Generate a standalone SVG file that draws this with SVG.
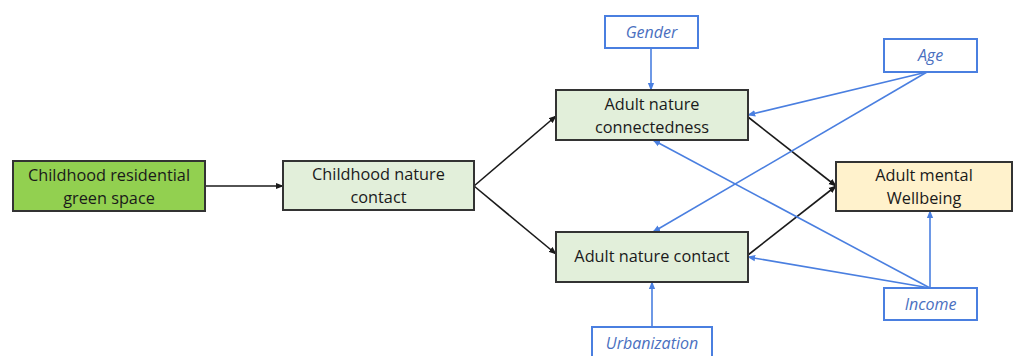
<svg xmlns="http://www.w3.org/2000/svg" width="1014" height="356" viewBox="0 0 1014 356">
<defs>
<style>
.box{stroke:#333;stroke-width:2}
.mod{fill:#fff;stroke:#4a7fe0;stroke-width:2}
.t{font-family:"Open Sans","Liberation Sans",sans-serif;font-size:16.3px;fill:#1a1a1a;text-anchor:middle}
.m{font-family:"Open Sans","Liberation Sans",sans-serif;font-size:16px;font-style:italic;fill:#4a6fc0;text-anchor:middle}
.k{stroke:#1a1a1a;stroke-width:1.6;fill:none;marker-end:url(#ak)}
.b{stroke:#4a7fe0;stroke-width:1.6;fill:none;marker-end:url(#ab)}
</style>
<marker id="ak" viewBox="0 0 10 10" refX="9" refY="5" markerWidth="5" markerHeight="5" orient="auto"><path d="M0,1 L10,5 L0,9 z" fill="#1a1a1a"/></marker>
<marker id="ab" viewBox="0 0 10 10" refX="9" refY="5" markerWidth="5" markerHeight="5" orient="auto"><path d="M0,1 L10,5 L0,9 z" fill="#4a7fe0"/></marker>
</defs>
<rect width="1014" height="356" fill="#fff"/>
<g id="connectors">
<line class="k" x1="205" y1="186" x2="283" y2="186"/>
<line class="k" x1="474" y1="186" x2="556" y2="116"/>
<line class="k" x1="474" y1="186" x2="556" y2="254"/>
<line class="k" x1="748" y1="117" x2="836" y2="186"/>
<line class="k" x1="748" y1="255" x2="836" y2="186"/>
<line class="b" x1="651" y1="48" x2="651" y2="90"/>
<line class="b" x1="927" y1="72" x2="748" y2="115"/>
<line class="b" x1="927" y1="72" x2="653" y2="232"/>
<line class="b" x1="930" y1="288" x2="653" y2="140"/>
<line class="b" x1="930" y1="288" x2="748" y2="257"/>
<line class="b" x1="930" y1="288" x2="930" y2="211"/>
<line class="b" x1="652" y1="327" x2="652" y2="282"/>
</g>
<g id="green-space"><rect class="box" x="13" y="161" width="192" height="50" fill="#92d050"/><text class="t" x="109" y="181">Childhood residential</text><text class="t" x="109" y="204">green space</text></g>
<g id="child-contact"><rect class="box" x="283" y="161" width="191" height="49" fill="#e2efda"/><text class="t" x="378.5" y="180">Childhood nature</text><text class="t" x="378.5" y="203">contact</text></g>
<g id="connectedness"><rect class="box" x="556" y="90" width="192" height="50" fill="#e2efda"/><text class="t" x="652" y="110">Adult nature</text><text class="t" x="652" y="133">connectedness</text></g>
<g id="adult-contact"><rect class="box" x="556" y="232" width="192" height="50" fill="#e2efda"/><text class="t" x="652" y="262">Adult nature contact</text></g>
<g id="wellbeing"><rect class="box" x="836" y="162" width="176" height="49" fill="#fff2cc"/><text class="t" x="924" y="181">Adult mental</text><text class="t" x="924" y="204">Wellbeing</text></g>
<g id="gender"><rect class="mod" x="605" y="16" width="93" height="32"/><text class="m" x="651.5" y="38">Gender</text></g>
<g id="age"><rect class="mod" x="884" y="39" width="93" height="33"/><text class="m" x="930.5" y="61">Age</text></g>
<g id="income"><rect class="mod" x="884" y="288" width="93" height="32"/><text class="m" x="930.5" y="310">Income</text></g>
<g id="urbanization"><rect class="mod" x="592" y="327" width="120" height="34"/><text class="m" x="652" y="349">Urbanization</text></g>
</svg>
